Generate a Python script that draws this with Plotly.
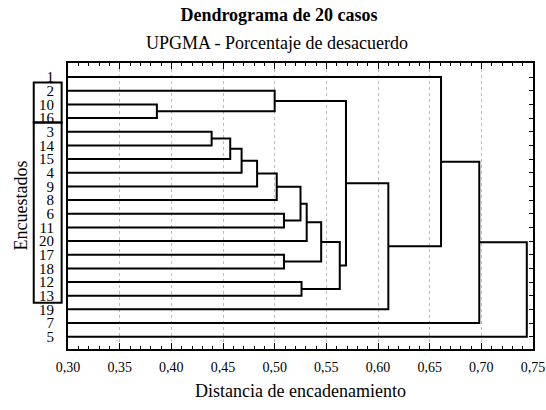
import plotly.graph_objects as go

# ---- data ----
leaf_labels = ["1", "2", "10", "16", "3", "14", "15", "4", "9", "8",
               "6", "11", "20", "17", "18", "12", "13", "19", "7", "5"]
# merges: child references are leaf labels (str) or earlier merge index (int)
merge_left = ["10", "2", "3", 2, 3, 4, 5, "6", 6, 8, "17", 9, "12", 11, 1, 14, "1", 16, 17]
merge_right = ["16", 0, "14", "15", "4", "9", "8", "11", 7, "20", "18", 10, "13", 12, 13, "19", 15, "7", "5"]
merge_dist = [0.386, 0.500, 0.439, 0.457, 0.468, 0.483, 0.502, 0.509, 0.525, 0.531,
              0.509, 0.545, 0.526, 0.563, 0.569, 0.610, 0.661, 0.698, 0.744]
x_tick_vals = [0.30, 0.35, 0.40, 0.45, 0.50, 0.55, 0.60, 0.65, 0.70, 0.75]
x_tick_text = ["0,30", "0,35", "0,40", "0,45", "0,50", "0,55", "0,60", "0,65", "0,70", "0,75"]

# ---- build dendrogram path ----
leaf_pos = {lab: i + 1 for i, lab in enumerate(leaf_labels)}
node_x, node_y = [], []


def child(c):
    if isinstance(c, int):
        return node_x[c], node_y[c]
    return 0.0, leaf_pos[c]


xs, ys = [], []
for a, b, d in zip(merge_left, merge_right, merge_dist):
    xa, ya = child(a)
    xb, yb = child(b)
    xs += [xa, d, d, xb, None]
    ys += [ya, ya, yb, yb, None]
    node_x.append(d)
    node_y.append((ya + yb) / 2)

fig = go.Figure()
fig.add_trace(go.Scatter(x=xs, y=ys, mode="lines",
                         line=dict(color="black", width=2), hoverinfo="skip"))
fig.add_trace(go.Scatter(x=[None], y=[None], xaxis="x2", yaxis="y2", mode="lines", hoverinfo="skip"))

W, H = 557, 410
ML, MR, MT, MB = 68, 14, 63, 61
plot_w = W - ML - MR
plot_h = H - MT - MB

yr = [20.9, -0.03]
xr = [0.30, 0.75]
FONT = "Liberation Serif"

common_x = dict(range=xr, tickvals=x_tick_vals, ticks="inside", ticklen=6, tickwidth=1,
                tickcolor="black", zeroline=False,
                minor=dict(tick0=0.30, dtick=0.01, ticks="inside", ticklen=3,
                           tickcolor="black", showgrid=False))

fig.update_layout(
    width=W, height=H,
    margin=dict(l=ML, r=MR, t=MT, b=MB),
    paper_bgcolor="white", plot_bgcolor="white",
    font=dict(family=FONT, color="black", size=14),
    showlegend=False,
    title=dict(text="<b>Dendrograma de 20 casos</b>", x=279 / W, xref="container", xanchor="center",
               y=1 - 15 / H, yref="container", yanchor="middle",
               font=dict(family=FONT, size=18, color="black")),
    xaxis=dict(**common_x, ticktext=x_tick_text,
               mirror=True, showline=True, linewidth=2, linecolor="black",
               showgrid=True, gridcolor="#bdbdbd", griddash="dot", gridwidth=1,
               tickfont=dict(size=14), ticklabelstandoff=4,
               title=dict(text="Distancia de encadenamiento", font=dict(size=18), standoff=11)),
    xaxis2=dict(**common_x, overlaying="x", side="top", showticklabels=False,
                showgrid=False, showline=False),
    yaxis=dict(range=yr, tickvals=list(range(1, len(leaf_labels) + 1)), ticktext=leaf_labels,
               ticks="", showline=True, linewidth=2, linecolor="black", mirror=True,
               showgrid=False, zeroline=False, tickfont=dict(size=15), ticklabelstandoff=9),
    yaxis2=dict(range=yr, overlaying="y", side="right",
                tickvals=list(range(1, len(leaf_labels) + 1)),
                ticks="inside", ticklen=4, tickwidth=1, tickcolor="black",
                showticklabels=False, showgrid=False, zeroline=False, showline=False),
)

fig.add_annotation(text="UPGMA - Porcentaje de desacuerdo", xref="paper", yref="paper",
                   x=(282 - ML) / plot_w, y=(H - MB - 43) / plot_h, xanchor="center", yanchor="middle",
                   showarrow=False, font=dict(family=FONT, size=18, color="black"))
fig.add_annotation(text="Encuestados", xref="paper", yref="paper", textangle=-90,
                   x=(19.5 - ML) / plot_w, y=0.5, xanchor="center", yanchor="middle",
                   showarrow=False, font=dict(family=FONT, size=18, color="black"))

# group brackets around leaf labels
bx0, bx1 = (33 - ML) / plot_w, (61.5 - ML) / plot_w
for y0, y1 in [(1.40, 4.33), (4.33, 17.51)]:
    fig.add_shape(type="rect", xref="paper", yref="y", x0=bx0, x1=bx1, y0=y0, y1=y1,
                  line=dict(color="black", width=2), fillcolor="rgba(0,0,0,0)", layer="above")

fig.write_html("out.html", config={"displayModeBar": False},
               post_script="document.body.style.margin='0';"
                           "document.documentElement.style.overflow='hidden';")
